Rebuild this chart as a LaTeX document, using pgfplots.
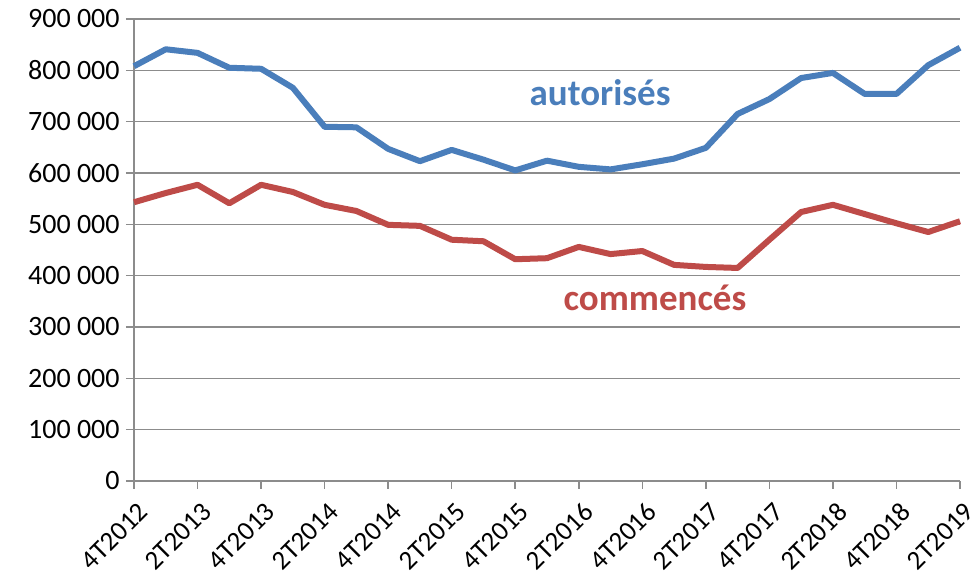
\documentclass[border=0pt]{standalone}
\usepackage{pgfplots}
\pgfplotsset{compat=1.18}
\usepackage{fontspec}
\setmainfont{Carlito}
\usepackage{pgfplotstable}

\definecolor{autoblue}{HTML}{4A7EBB}
\definecolor{comred}{HTML}{BE4B48}
\definecolor{gridgray}{HTML}{8C8C8C}

% quarterly values, 4T2012 = 0 ... 2T2019 = 26
\pgfplotstableread{
q  autorises commences
0  808000 543000
1  841000 561000
2  834000 577000
3  805000 541000
4  803000 577000
5  766000 563000
6  690000 538000
7  689000 526000
8  647000 499000
9  623000 497000
10 645000 470000
11 626000 467000
12 605000 432000
13 624000 434000
14 612000 456000
15 607000 442000
16 617000 448000
17 628000 421000
18 649000 417000
19 715000 415000
20 744000 470000
21 785000 524000
22 795000 538000
23 754000 520000
24 754000 502000
25 810000 485000
26 844000 506000
}\datatable

\begin{document}
\begin{tikzpicture}
\begin{axis}[
  scale only axis, width=413pt, height=231pt,
  xmin=0, xmax=26, ymin=0, ymax=900000,
  axis x line*=bottom, axis y line*=left,
  axis line style={draw=gridgray, line width=0.8pt},
  xtick={0,2,...,26},
  xticklabels={4T2012,2T2013,4T2013,2T2014,4T2014,2T2015,4T2015,2T2016,4T2016,2T2017,4T2017,2T2018,4T2018,2T2019},
  ytick={0,100000,...,900000},
  yticklabels={0,100 000,200 000,300 000,400 000,500 000,600 000,700 000,800 000,900 000},
  scaled y ticks=false,
  tick align=outside, major tick length=4pt,
  tick style={draw=gridgray, line width=0.8pt},
  ymajorgrids, grid style={draw=gridgray, line width=0.8pt},
  tick label style={font=\fontsize{14}{16}\selectfont, text=black},
  xticklabel style={font=\fontsize{13.5}{15}\selectfont, yshift=-5pt, xshift=1.5pt, rotate=45, anchor=north east, inner sep=0.5pt},
  yticklabel style={inner sep=3pt},
  clip=false,
]
\addplot[autoblue, line width=3pt, line join=round] table[x=q, y=autorises] {\datatable};
\addplot[comred, line width=3pt, line join=round] table[x=q, y=commences] {\datatable};
\node[text=autoblue, font=\bfseries\fontsize{18.5}{20}\selectfont] at (axis cs:14.67,756000) {autorisés};
\node[text=comred, font=\bfseries\fontsize{18.5}{20}\selectfont] at (axis cs:16.4,356000) {commencés};
\end{axis}
\pgfresetboundingbox
\path[use as bounding box] ([xshift=-67pt, yshift=-48pt]current axis.south west) rectangle ([xshift=5.5pt, yshift=9.5pt]current axis.north east);
\end{tikzpicture}
\end{document}
